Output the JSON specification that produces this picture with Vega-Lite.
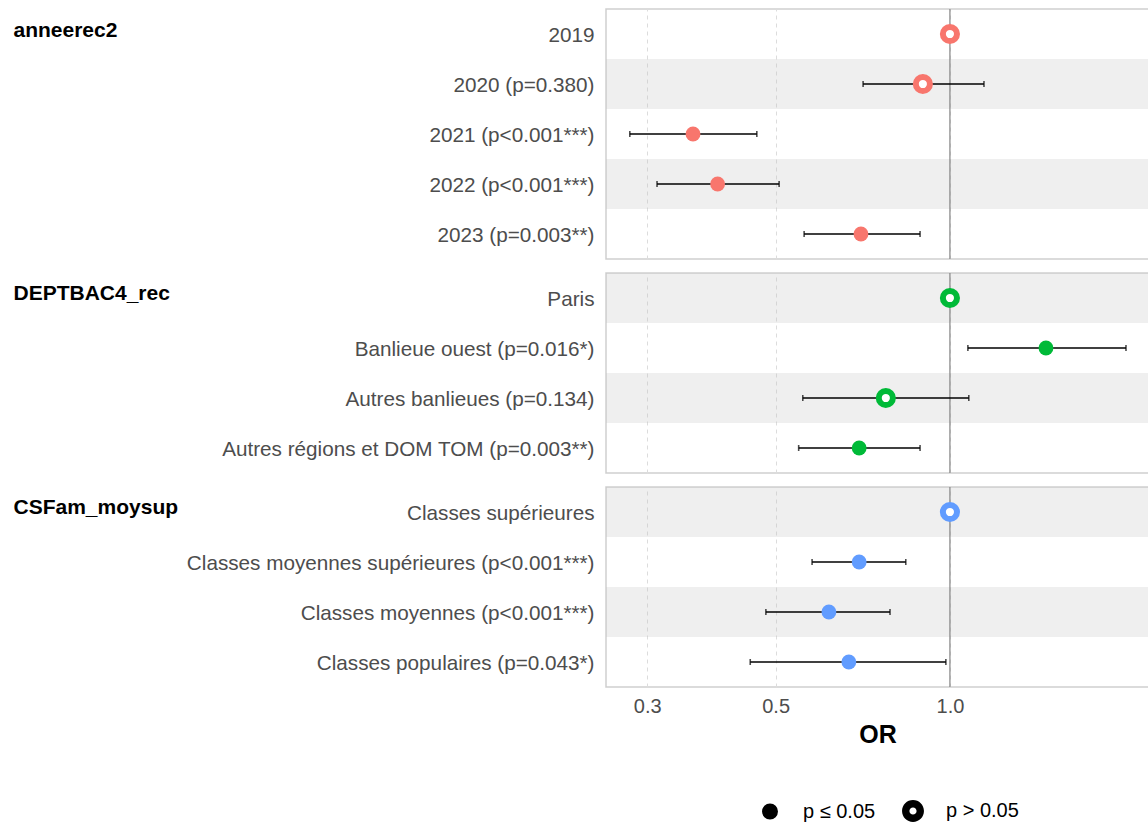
{
  "$schema": "https://vega.github.io/schema/vega-lite/v6.json",
  "padding": {"left": 12, "top": 7, "right": 0, "bottom": 0},
  "background": "white",
  "spacing": 10,
  "config": {
    "font": "Liberation Sans",
    "view": {"stroke": "#cfcfcf", "strokeWidth": 1.5},
    "axis": {"labelFont": "Liberation Sans", "titleFont": "Liberation Sans"},
    "legend": {"labelFont": "Liberation Sans"}
  },
  "datasets": {
    "coefs": [
      {"var": "anneerec2", "label": "2019", "ord": 1, "est": 1.0, "lo": null, "hi": null, "sig": "p > 0.05", "ref": 1, "stripe": 0},
      {"var": "anneerec2", "label": "2020 (p=0.380)", "ord": 2, "est": 0.898, "lo": 0.708, "hi": 1.145, "sig": "p > 0.05", "ref": 0, "stripe": 1},
      {"var": "anneerec2", "label": "2021 (p<0.001***)", "ord": 3, "est": 0.360, "lo": 0.280, "hi": 0.464, "sig": "p ≤ 0.05", "ref": 0, "stripe": 0},
      {"var": "anneerec2", "label": "2022 (p<0.001***)", "ord": 4, "est": 0.397, "lo": 0.312, "hi": 0.507, "sig": "p ≤ 0.05", "ref": 0, "stripe": 1},
      {"var": "anneerec2", "label": "2023 (p=0.003**)", "ord": 5, "est": 0.702, "lo": 0.560, "hi": 0.888, "sig": "p ≤ 0.05", "ref": 0, "stripe": 0},
      {"var": "DEPTBAC4_rec", "label": "Paris", "ord": 1, "est": 1.0, "lo": null, "hi": null, "sig": "p > 0.05", "ref": 1, "stripe": 1},
      {"var": "DEPTBAC4_rec", "label": "Banlieue ouest (p=0.016*)", "ord": 2, "est": 1.465, "lo": 1.074, "hi": 2.014, "sig": "p ≤ 0.05", "ref": 0, "stripe": 0},
      {"var": "DEPTBAC4_rec", "label": "Autres banlieues (p=0.134)", "ord": 3, "est": 0.775, "lo": 0.557, "hi": 1.078, "sig": "p > 0.05", "ref": 0, "stripe": 1},
      {"var": "DEPTBAC4_rec", "label": "Autres régions et DOM TOM (p=0.003**)", "ord": 4, "est": 0.697, "lo": 0.548, "hi": 0.888, "sig": "p ≤ 0.05", "ref": 0, "stripe": 0},
      {"var": "CSFam_moysup", "label": "Classes supérieures", "ord": 1, "est": 1.0, "lo": null, "hi": null, "sig": "p > 0.05", "ref": 1, "stripe": 1},
      {"var": "CSFam_moysup", "label": "Classes moyennes supérieures (p<0.001***)", "ord": 2, "est": 0.697, "lo": 0.578, "hi": 0.839, "sig": "p ≤ 0.05", "ref": 0, "stripe": 0},
      {"var": "CSFam_moysup", "label": "Classes moyennes (p<0.001***)", "ord": 3, "est": 0.618, "lo": 0.481, "hi": 0.788, "sig": "p ≤ 0.05", "ref": 0, "stripe": 1},
      {"var": "CSFam_moysup", "label": "Classes populaires (p=0.043*)", "ord": 4, "est": 0.669, "lo": 0.452, "hi": 0.984, "sig": "p ≤ 0.05", "ref": 0, "stripe": 0}
    ]
  },
  "data": {"name": "coefs"},
  "vconcat": [
    {
      "width": 543, "height": 250,
      "transform": [{"filter": "datum.var === 'anneerec2'"}],
      "layer": [
        {
          "transform": [{"filter": "datum.stripe === 1"}],
          "mark": {"type": "rect", "fill": "#c4c4c4", "opacity": 0.27},
          "encoding": {
            "y": {"field": "label", "type": "nominal", "sort": {"field": "ord", "op": "min"}, "scale": {"paddingInner": 0, "paddingOuter": 0},
              "axis": {"title": "anneerec2", "titleAngle": 0, "titleAlign": "left", "titleBaseline": "middle", "titleX": -593, "titleY": 21, "titleFontSize": 21, "titleFontWeight": "bold", "titleColor": "black", "labelFontSize": 20.7, "labelLimit": 0, "labelColor": "#4d4d4d", "labelOffset": 1.5, "ticks": false, "domain": false, "labelPadding": 12}}
          }
        },
        {
          "transform": [{"filter": "datum.ref === 1"}],
          "mark": {"type": "rule", "color": "#858585", "strokeWidth": 1.2},
          "encoding": {
            "x": {"field": "est", "type": "quantitative", "scale": {"type": "log", "domain": [0.2547, 2.207], "nice": false, "zero": false},
              "axis": {"values": [0.3, 0.5, 1.0], "labels": false, "ticks": false, "domain": false, "title": null, "grid": true, "gridDash": [4, 4], "gridColor": "#dcdcdc"}}
          }
        },
        {
          "transform": [{"filter": "datum.ref === 0"}],
          "mark": {"type": "rule", "color": "black", "strokeWidth": 1.6},
          "encoding": {
            "y": {"field": "label", "type": "nominal", "sort": {"field": "ord", "op": "min"}},
            "x": {"field": "lo", "type": "quantitative"},
            "x2": {"field": "hi"}
          }
        },
        {
          "transform": [{"filter": "datum.ref === 0"}],
          "mark": {"type": "tick", "color": "black", "thickness": 1.6, "size": 6},
          "encoding": {
            "y": {"field": "label", "type": "nominal", "sort": {"field": "ord", "op": "min"}},
            "x": {"field": "lo", "type": "quantitative"}
          }
        },
        {
          "transform": [{"filter": "datum.ref === 0"}],
          "mark": {"type": "tick", "color": "black", "thickness": 1.6, "size": 6},
          "encoding": {
            "y": {"field": "label", "type": "nominal", "sort": {"field": "ord", "op": "min"}},
            "x": {"field": "hi", "type": "quantitative"}
          }
        },
        {
          "transform": [{"filter": "datum.sig === 'p ≤ 0.05'"}],
          "mark": {"type": "point", "filled": true, "opacity": 1, "size": 220},
          "encoding": {
            "y": {"field": "label", "type": "nominal", "sort": {"field": "ord", "op": "min"}},
            "x": {"field": "est", "type": "quantitative"},
            "fill": {"field": "var", "type": "nominal", "scale": {"domain": ["anneerec2", "DEPTBAC4_rec", "CSFam_moysup"], "range": ["#F8766D", "#00BA38", "#619CFF"]}, "legend": null},
            "shape": {"field": "sig", "type": "nominal", "scale": {"domain": ["p ≤ 0.05", "p > 0.05"], "range": ["circle", "M -1.375 0 A 1.375 1.375 0 1 0 1.375 0 A 1.375 1.375 0 1 0 -1.375 0 Z M -0.45 0 A 0.45 0.45 0 1 1 0.45 0 A 0.45 0.45 0 1 1 -0.45 0 Z"]},
              "legend": {"title": null, "orient": "none", "legendX": 154, "legendY": 792, "direction": "horizontal", "labelFontSize": 20, "labelColor": "black", "symbolSize": 254, "symbolFillColor": "black", "symbolStrokeWidth": 0, "labelOffset": 23, "columnPadding": 26,
                "encode": {"symbols": {"update": {"fill": {"value": "black"}, "strokeWidth": {"value": 0}, "opacity": {"value": 1}}}}}}
          }
        },
        {
          "transform": [{"filter": "datum.sig === 'p > 0.05'"}],
          "mark": {"type": "point", "shape": "circle", "filled": false, "fill": "white", "opacity": 1, "size": 200, "strokeWidth": 6},
          "encoding": {
            "y": {"field": "label", "type": "nominal", "sort": {"field": "ord", "op": "min"}},
            "x": {"field": "est", "type": "quantitative"},
            "stroke": {"field": "var", "type": "nominal", "scale": {"domain": ["anneerec2", "DEPTBAC4_rec", "CSFam_moysup"], "range": ["#F8766D", "#00BA38", "#619CFF"]}, "legend": null}
          }
        }
      ]
    },
    {
      "width": 543, "height": 200,
      "transform": [{"filter": "datum.var === 'DEPTBAC4_rec'"}],
      "layer": [
        {
          "transform": [{"filter": "datum.stripe === 1"}],
          "mark": {"type": "rect", "fill": "#c4c4c4", "opacity": 0.27},
          "encoding": {
            "y": {"field": "label", "type": "nominal", "sort": {"field": "ord", "op": "min"}, "scale": {"paddingInner": 0, "paddingOuter": 0},
              "axis": {"title": "DEPTBAC4_rec", "titleAngle": 0, "titleAlign": "left", "titleBaseline": "middle", "titleX": -593, "titleY": 20, "titleFontSize": 21, "titleFontWeight": "bold", "titleColor": "black", "labelFontSize": 20.7, "labelLimit": 0, "labelColor": "#4d4d4d", "labelOffset": 1.5, "ticks": false, "domain": false, "labelPadding": 12}}
          }
        },
        {
          "transform": [{"filter": "datum.ref === 1"}],
          "mark": {"type": "rule", "color": "#858585", "strokeWidth": 1.2},
          "encoding": {
            "x": {"field": "est", "type": "quantitative", "scale": {"type": "log", "domain": [0.2547, 2.207], "nice": false, "zero": false},
              "axis": {"values": [0.3, 0.5, 1.0], "labels": false, "ticks": false, "domain": false, "title": null, "grid": true, "gridDash": [4, 4], "gridColor": "#dcdcdc"}}
          }
        },
        {
          "transform": [{"filter": "datum.ref === 0"}],
          "mark": {"type": "rule", "color": "black", "strokeWidth": 1.6},
          "encoding": {
            "y": {"field": "label", "type": "nominal", "sort": {"field": "ord", "op": "min"}},
            "x": {"field": "lo", "type": "quantitative"},
            "x2": {"field": "hi"}
          }
        },
        {
          "transform": [{"filter": "datum.ref === 0"}],
          "mark": {"type": "tick", "color": "black", "thickness": 1.6, "size": 6},
          "encoding": {
            "y": {"field": "label", "type": "nominal", "sort": {"field": "ord", "op": "min"}},
            "x": {"field": "lo", "type": "quantitative"}
          }
        },
        {
          "transform": [{"filter": "datum.ref === 0"}],
          "mark": {"type": "tick", "color": "black", "thickness": 1.6, "size": 6},
          "encoding": {
            "y": {"field": "label", "type": "nominal", "sort": {"field": "ord", "op": "min"}},
            "x": {"field": "hi", "type": "quantitative"}
          }
        },
        {
          "transform": [{"filter": "datum.sig === 'p ≤ 0.05'"}],
          "mark": {"type": "point", "filled": true, "opacity": 1, "size": 220},
          "encoding": {
            "y": {"field": "label", "type": "nominal", "sort": {"field": "ord", "op": "min"}},
            "x": {"field": "est", "type": "quantitative"},
            "fill": {"field": "var", "type": "nominal", "legend": null},
            "shape": {"field": "sig", "type": "nominal"}
          }
        },
        {
          "transform": [{"filter": "datum.sig === 'p > 0.05'"}],
          "mark": {"type": "point", "shape": "circle", "filled": false, "fill": "white", "opacity": 1, "size": 200, "strokeWidth": 6},
          "encoding": {
            "y": {"field": "label", "type": "nominal", "sort": {"field": "ord", "op": "min"}},
            "x": {"field": "est", "type": "quantitative"},
            "stroke": {"field": "var", "type": "nominal", "legend": null}
          }
        }
      ]
    },
    {
      "width": 543, "height": 200,
      "transform": [{"filter": "datum.var === 'CSFam_moysup'"}],
      "layer": [
        {
          "transform": [{"filter": "datum.stripe === 1"}],
          "mark": {"type": "rect", "fill": "#c4c4c4", "opacity": 0.27},
          "encoding": {
            "y": {"field": "label", "type": "nominal", "sort": {"field": "ord", "op": "min"}, "scale": {"paddingInner": 0, "paddingOuter": 0},
              "axis": {"title": "CSFam_moysup", "titleAngle": 0, "titleAlign": "left", "titleBaseline": "middle", "titleX": -593, "titleY": 20, "titleFontSize": 21, "titleFontWeight": "bold", "titleColor": "black", "labelFontSize": 20.7, "labelLimit": 0, "labelColor": "#4d4d4d", "labelOffset": 1.5, "ticks": false, "domain": false, "labelPadding": 12}}
          }
        },
        {
          "transform": [{"filter": "datum.ref === 1"}],
          "mark": {"type": "rule", "color": "#858585", "strokeWidth": 1.2},
          "encoding": {
            "x": {"field": "est", "type": "quantitative", "scale": {"type": "log", "domain": [0.2547, 2.207], "nice": false, "zero": false},
              "axis": {"values": [0.3, 0.5, 1.0], "format": ".1f", "labels": true, "labelFontSize": 20, "labelColor": "#4d4d4d", "labelPadding": 9, "ticks": false, "domain": false, "title": "OR", "titleFontSize": 25, "titleFontWeight": "bold", "titleColor": "black", "titlePadding": 6, "grid": true, "gridDash": [4, 4], "gridColor": "#dcdcdc"}}
          }
        },
        {
          "transform": [{"filter": "datum.ref === 0"}],
          "mark": {"type": "rule", "color": "black", "strokeWidth": 1.6},
          "encoding": {
            "y": {"field": "label", "type": "nominal", "sort": {"field": "ord", "op": "min"}},
            "x": {"field": "lo", "type": "quantitative"},
            "x2": {"field": "hi"}
          }
        },
        {
          "transform": [{"filter": "datum.ref === 0"}],
          "mark": {"type": "tick", "color": "black", "thickness": 1.6, "size": 6},
          "encoding": {
            "y": {"field": "label", "type": "nominal", "sort": {"field": "ord", "op": "min"}},
            "x": {"field": "lo", "type": "quantitative"}
          }
        },
        {
          "transform": [{"filter": "datum.ref === 0"}],
          "mark": {"type": "tick", "color": "black", "thickness": 1.6, "size": 6},
          "encoding": {
            "y": {"field": "label", "type": "nominal", "sort": {"field": "ord", "op": "min"}},
            "x": {"field": "hi", "type": "quantitative"}
          }
        },
        {
          "transform": [{"filter": "datum.sig === 'p ≤ 0.05'"}],
          "mark": {"type": "point", "filled": true, "opacity": 1, "size": 220},
          "encoding": {
            "y": {"field": "label", "type": "nominal", "sort": {"field": "ord", "op": "min"}},
            "x": {"field": "est", "type": "quantitative"},
            "fill": {"field": "var", "type": "nominal", "legend": null},
            "shape": {"field": "sig", "type": "nominal"}
          }
        },
        {
          "transform": [{"filter": "datum.sig === 'p > 0.05'"}],
          "mark": {"type": "point", "shape": "circle", "filled": false, "fill": "white", "opacity": 1, "size": 200, "strokeWidth": 6},
          "encoding": {
            "y": {"field": "label", "type": "nominal", "sort": {"field": "ord", "op": "min"}},
            "x": {"field": "est", "type": "quantitative"},
            "stroke": {"field": "var", "type": "nominal", "legend": null}
          }
        }
      ]
    }
  ]
}
